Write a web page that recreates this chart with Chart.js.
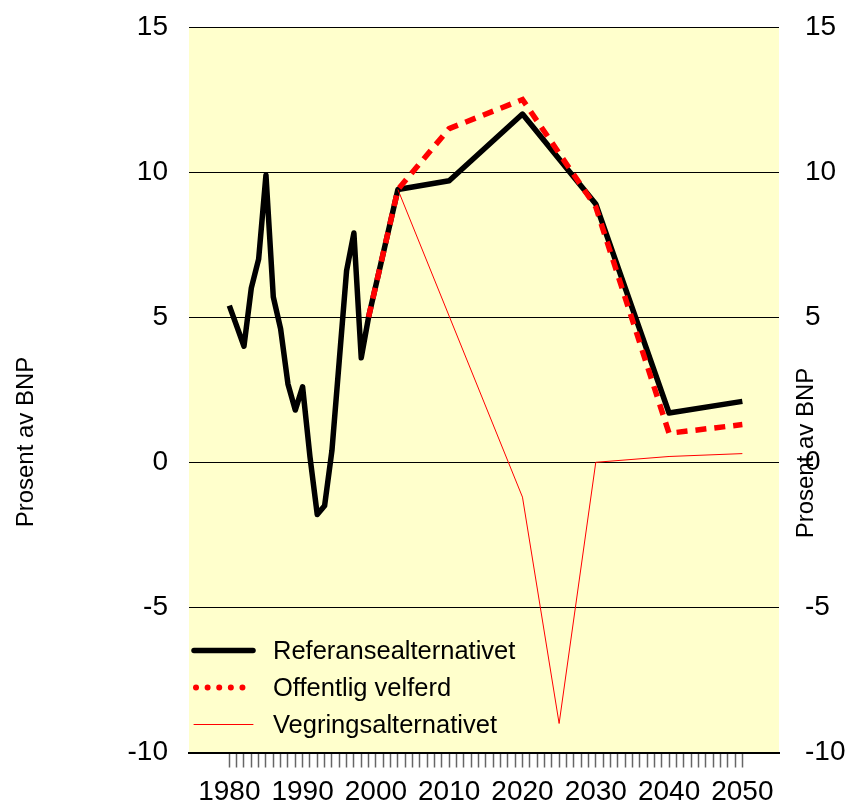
<!DOCTYPE html>
<html>
<head>
<meta charset="utf-8">
<script src="https://cdn.jsdelivr.net/npm/chart.js@4"></script>
<style>
  body { margin: 0; background: #fff; }
</style>
</head>
<body>
<canvas id="chart" width="850" height="806"></canvas>
<script>
// historiske tall
const histYears = [1980, 1981, 1982, 1983, 1984, 1985, 1986, 1987, 1988, 1989,
                   1990, 1991, 1992, 1993, 1994, 1995, 1996, 1997, 1998, 1999];
const histValues = [5.4, 4.7, 4.0, 6.0, 7.0, 9.9, 5.7, 4.6, 2.7, 1.8,
                    2.6, 0.2, -1.8, -1.5, 0.4, 3.5, 6.6, 7.9, 3.6, 5.0];

// framskrivninger
const projYears = [2003, 2010, 2020, 2030, 2040, 2050];
const refProjValues = [9.4, 9.7, 12.0, 8.9, 1.7, 2.1];

const velferdYears = [1999, 2003, 2010, 2020, 2030, 2040, 2050];
const velferdValues = [5.0, 9.4, 11.5, 12.5, 8.8, 1.0, 1.3];

const vegringYears = [2003, 2020, 2025, 2030, 2040, 2050];
const vegringValues = [9.4, -1.2, -9.0, 0.0, 0.2, 0.3];

const seriesNames = ['Referansealternativet', 'Offentlig velferd', 'Vegringsalternativet'];
const yTicks = [-10, -5, 0, 5, 10, 15];
const xLabelYears = [1980, 1990, 2000, 2010, 2020, 2030, 2040, 2050];
const yTitle = 'Prosent av BNP';

const FONT = '"Liberation Sans", Arial, sans-serif';
const toPoints = (xs, ys) => xs.map((x, i) => ({ x: x, y: ys[i] }));

// gul bakgrunn i plottet
const plotBackground = {
  id: 'plotBackground',
  beforeDraw(chart) {
    const { ctx, chartArea: a } = chart;
    ctx.save();
    ctx.fillStyle = '#FFFFCC';
    ctx.fillRect(a.left, a.top, a.right - a.left, a.bottom - a.top);
    ctx.restore();
  }
};

// aksetitler og legende inne i plottet
const overlay = {
  id: 'overlay',
  afterDraw(chart) {
    const { ctx, chartArea: a } = chart;
    ctx.save();
    ctx.fillStyle = '#000';
    ctx.font = '24px ' + FONT;
    ctx.textAlign = 'center';
    ctx.textBaseline = 'middle';
    [[26, 442], [806, 453]].forEach(([x, y]) => {
      ctx.save();
      ctx.translate(x, y);
      ctx.rotate(-Math.PI / 2);
      ctx.fillText(yTitle, 0, 0);
      ctx.restore();
    });

    const x0 = a.left + 5, x1 = a.left + 64;
    const rows = [a.bottom - 102, a.bottom - 65, a.bottom - 28];
    chart.data.datasets.forEach((ds, i) => {
      const y = rows[i];
      ctx.beginPath();
      ctx.strokeStyle = ds.borderColor;
      if (i === 1) {
        ctx.lineWidth = 6;
        ctx.lineCap = 'round';
        ctx.setLineDash([0.01, 11.6]);
        ctx.moveTo(x0 + 2, y);
      } else {
        ctx.lineWidth = ds.borderWidth;
        ctx.lineCap = 'round';
        ctx.setLineDash([]);
        ctx.moveTo(x0, y);
      }
      ctx.lineTo(x1, y);
      ctx.stroke();
      ctx.setLineDash([]);
      ctx.font = '25.5px ' + FONT;
      ctx.textAlign = 'left';
      ctx.fillText(seriesNames[i], a.left + 84, y + 1);
    });
    ctx.restore();
  }
};

const fitY = width => s => {
  s.width = width;
  s.paddingTop = 0;
  s.paddingBottom = 0;
};

new Chart(document.getElementById('chart'), {
  type: 'line',
  data: {
    datasets: [
      {
        label: seriesNames[0],
        data: toPoints(histYears.concat(projYears), histValues.concat(refProjValues)),
        borderColor: '#000000',
        borderWidth: 5.5,
        borderJoinStyle: 'round',
        pointRadius: 0,
        order: 3
      },
      {
        label: seriesNames[1],
        data: toPoints(velferdYears, velferdValues),
        borderColor: '#FF0000',
        borderWidth: 5.5,
        borderDash: [11, 8],
        pointRadius: 0,
        order: 2
      },
      {
        label: seriesNames[2],
        data: toPoints(vegringYears, vegringValues),
        borderColor: '#FF0000',
        borderWidth: 1,
        pointRadius: 0,
        order: 1
      }
    ]
  },
  options: {
    responsive: false,
    animation: false,
    layout: { padding: { top: 27, left: 0, right: 0, bottom: 0 } },
    plugins: {
      legend: { display: false },
      tooltip: { enabled: false }
    },
    scales: {
      x: {
        type: 'linear',
        min: 1974.5,
        max: 2055,
        afterFit: s => { s.height = 53.5; },
        ticks: {
          stepSize: 1,
          includeBounds: false,
          autoSkip: false,
          maxRotation: 0,
          padding: 8,
          color: '#000',
          font: { family: FONT, size: 28 },
          callback: v => (xLabelYears.includes(v) ? String(v) : '')
        },
        grid: {
          drawOnChartArea: false,
          tickLength: 15,
          tickWidth: 1.5,
          tickColor: c => (c.tick && c.tick.value >= 1980 && c.tick.value <= 2050 ? '#666' : 'rgba(0,0,0,0)')
        },
        border: { display: true, color: '#000', width: 2 }
      },
      y: {
        position: 'left',
        min: -10,
        max: 15,
        afterFit: fitY(189),
        afterBuildTicks: s => { s.ticks = yTicks.map(v => ({ value: v })); },
        ticks: {
          padding: 21,
          color: '#000',
          font: { family: FONT, size: 28 }
        },
        grid: { color: '#000', lineWidth: 1, drawTicks: false },
        border: { display: false }
      },
      y2: {
        position: 'right',
        min: -10,
        max: 15,
        afterFit: fitY(71),
        afterBuildTicks: s => { s.ticks = yTicks.map(v => ({ value: v })); },
        ticks: {
          padding: 26,
          color: '#000',
          font: { family: FONT, size: 28 }
        },
        grid: { display: false, drawTicks: false },
        border: { display: false }
      }
    }
  },
  plugins: [plotBackground, overlay]
});
</script>
</body>
</html>
